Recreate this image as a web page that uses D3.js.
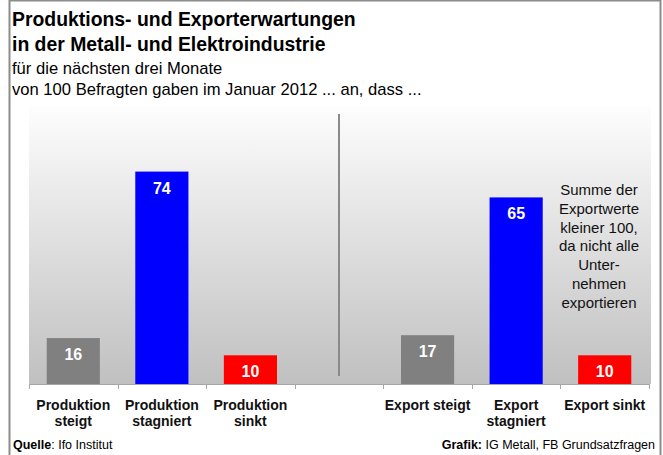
<!DOCTYPE html>
<html>
<head>
<meta charset="utf-8">
<script src="https://cdn.jsdelivr.net/npm/d3@7"></script>
<style>
  html, body { margin: 0; padding: 0; background: #fff; }
  svg { display: block; font-family: "Liberation Sans", Arial, sans-serif; }
</style>
</head>
<body>
<svg id="chart" width="663" height="455"></svg>
<script>
// Categories (the empty one separates the two groups)
const categories = ["P_steigt", "P_stagniert", "P_sinkt", "gap", "E_steigt", "E_stagniert", "E_sinkt"];
const categoryLabels = [
  ["Produktion", "steigt"],
  ["Produktion", "stagniert"],
  ["Produktion", "sinkt"],
  [],
  ["Export steigt"],
  ["Export", "stagniert"],
  ["Export sinkt"]
];
const values = [16, 74, 10, null, 17, 65, 10];
const barColors = ["#808080", "#0000ff", "#ff0000", null, "#808080", "#0000ff", "#ff0000"];

const titleLines = ["Produktions- und Exporterwartungen", "in der Metall- und Elektroindustrie"];
const subtitleLines = ["für die nächsten drei Monate", "von 100 Befragten gaben im Januar 2012 ... an, dass ..."];
const noteLines = ["Summe der", "Exportwerte", "kleiner 100,", "da nicht alle", "Unter-", "nehmen", "exportieren"];

const svg = d3.select("#chart");

// Frame
svg.append("rect")
  .attr("x", 9.5).attr("y", 0.5).attr("width", 651).attr("height", 470)
  .attr("fill", "#fff").attr("stroke", "#8c8c8c").attr("stroke-width", 2);

// Plot geometry
const plotLeft = 29, plotRight = 651, plotTop = 107, baseY = 384;

const x = d3.scaleBand().domain(categories).range([29, 649]).paddingInner(0.4).paddingOuter(0.2);
const y = d3.scaleLinear().domain([0, 96.5]).range([baseY, plotTop]);

// Plot background gradient
const defs = svg.append("defs");
const grad = defs.append("linearGradient").attr("id", "plotGrad")
  .attr("x1", 0).attr("y1", 0).attr("x2", 0).attr("y2", 1);
grad.append("stop").attr("offset", "0%").attr("stop-color", "#fdfdfd");
grad.append("stop").attr("offset", "100%").attr("stop-color", "#c0c0c0");

svg.append("rect")
  .attr("x", plotLeft).attr("y", plotTop)
  .attr("width", plotRight - plotLeft).attr("height", baseY - plotTop)
  .attr("fill", "url(#plotGrad)");

// Divider between the two groups
const divX = x("gap") + x.bandwidth() / 2;
svg.append("line")
  .attr("x1", divX).attr("x2", divX)
  .attr("y1", 114).attr("y2", 376)
  .attr("stroke", "#8a8a8a").attr("stroke-width", 2);

// Bars
const data = categories.map((c, i) => ({ c, v: values[i], color: barColors[i] })).filter(d => d.v != null);

svg.append("g").selectAll("rect").data(data).join("rect")
  .attr("x", d => x(d.c))
  .attr("width", x.bandwidth())
  .attr("y", d => y(d.v))
  .attr("height", d => y(0) - y(d.v))
  .attr("fill", d => d.color);

// Value labels inside bars
svg.append("g").selectAll("text").data(data).join("text")
  .attr("x", d => x(d.c) + x.bandwidth() / 2)
  .attr("y", d => y(d.v) + 22)
  .attr("text-anchor", "middle")
  .attr("fill", "#fff")
  .attr("font-weight", "bold")
  .attr("font-size", "16px")
  .text(d => d.v);

// Category axis: baseline and tick marks at band boundaries
const step = x.step();
const start = x(categories[0]) - step * x.paddingInner() / 2;
const tickXs = d3.range(categories.length + 1).map(i => start + i * step);
svg.append("line")
  .attr("x1", tickXs[0]).attr("x2", tickXs[tickXs.length - 1])
  .attr("y1", baseY + 0.5).attr("y2", baseY + 0.5)
  .attr("stroke", "#a6a6a6").attr("stroke-width", 1);
svg.append("g").selectAll("line").data(tickXs).join("line")
  .attr("x1", d => Math.round(d) + 0.5).attr("x2", d => Math.round(d) + 0.5)
  .attr("y1", baseY).attr("y2", baseY + 5)
  .attr("stroke", "#a6a6a6");

// Category labels
const catG = svg.append("g");
categories.forEach((c, i) => {
  const cx = x(c) + x.bandwidth() / 2;
  categoryLabels[i].forEach((line, j) => {
    catG.append("text")
      .attr("x", cx).attr("y", 410 + j * 16)
      .attr("text-anchor", "middle")
      .attr("font-weight", "bold")
      .attr("font-size", "14px")
      .attr("fill", "#111")
      .text(line);
  });
});

// Note next to the export bars
const noteX = 599;
noteLines.forEach((line, i) => {
  svg.append("text")
    .attr("x", noteX).attr("y", 195 + i * 18.8)
    .attr("text-anchor", "middle")
    .attr("font-size", "15px")
    .attr("fill", "#111")
    .text(line);
});

// Titles
titleLines.forEach((line, i) => {
  svg.append("text")
    .attr("x", 12).attr("y", 26 + i * 25)
    .attr("font-weight", "bold")
    .attr("font-size", "19.4px")
    .attr("fill", "#000")
    .text(line);
});
subtitleLines.forEach((line, i) => {
  svg.append("text")
    .attr("x", 12).attr("y", 74 + i * 21)
    .attr("font-size", "16.6px")
    .attr("fill", "#000")
    .text(line);
});

// Footer
const src = svg.append("text").attr("x", 13).attr("y", 449).attr("font-size", "12.5px").attr("fill", "#000");
src.append("tspan").attr("font-weight", "bold").text("Quelle");
src.append("tspan").text(": Ifo Institut");

const cred = svg.append("text").attr("x", 655).attr("y", 449).attr("font-size", "12.5px")
  .attr("text-anchor", "end").attr("fill", "#000");
cred.append("tspan").attr("font-weight", "bold").text("Grafik:");
cred.append("tspan").text(" IG Metall, FB Grundsatzfragen");
</script>
</body>
</html>
